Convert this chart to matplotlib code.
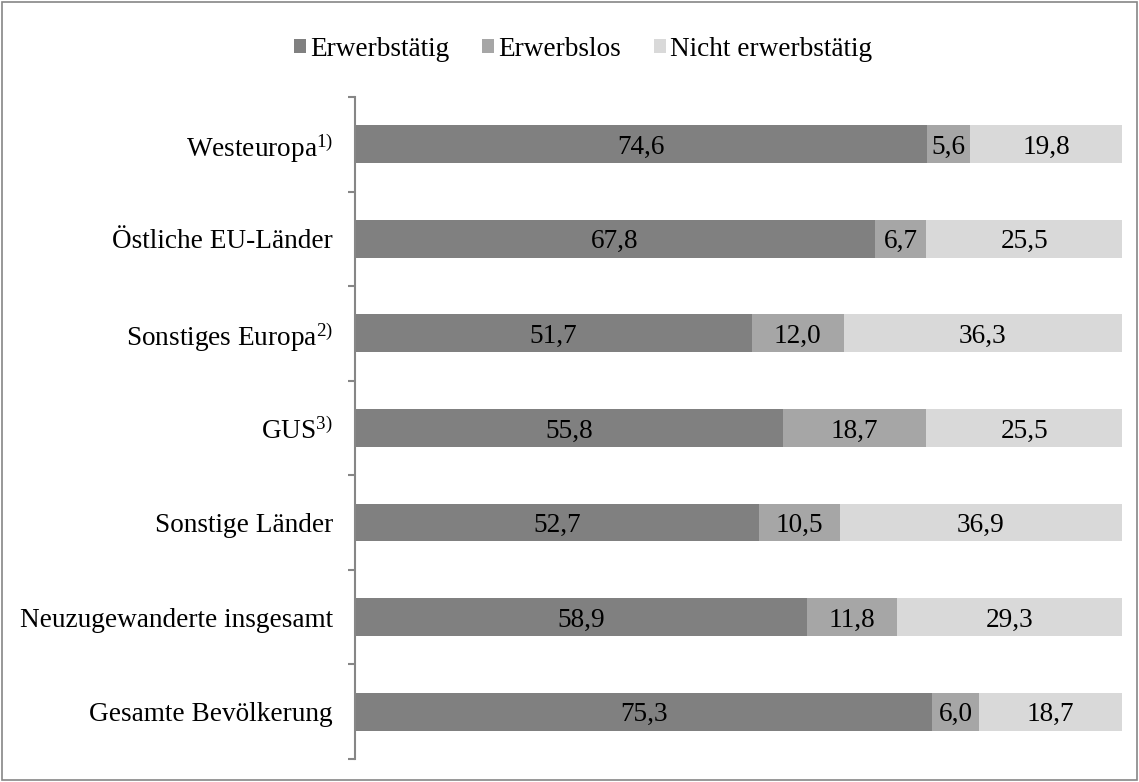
import matplotlib
matplotlib.use("Agg")
import matplotlib.pyplot as plt
from matplotlib.patches import Rectangle
import numpy as np

plt.rcParams['font.family'] = ['Liberation Serif', 'DejaVu Serif']
plt.rcParams['mathtext.fontset'] = 'custom'
plt.rcParams['mathtext.rm'] = 'Liberation Serif'
plt.rcParams['mathtext.default'] = 'regular'

# data
categories = ['Westeuropa$^{1)}$', 'Östliche EU-Länder', 'Sonstiges Europa$^{2)}$',
              'GUS$^{3)}$', 'Sonstige Länder', 'Neuzugewanderte insgesamt',
              'Gesamte Bevölkerung']
erwerbstaetig = [74.6, 67.8, 51.7, 55.8, 52.7, 58.9, 75.3]
erwerbslos = [5.6, 6.7, 12.0, 18.7, 10.5, 11.8, 6.0]
nicht_erwerbstaetig = [19.8, 25.5, 36.3, 25.5, 36.9, 29.3, 18.7]
series_names = ['Erwerbstätig', 'Erwerbslos', 'Nicht erwerbstätig']
colors = ['#808080', '#a6a6a6', '#d9d9d9']

fs = 19.6

fig = plt.figure(figsize=(11.39, 7.82), dpi=100)
ax = fig.add_axes([0.3117, 0.0294, 0.6733, 0.8466])

y = np.arange(len(categories))
left = np.zeros(len(categories))
for vals, name, c in zip([erwerbstaetig, erwerbslos, nicht_erwerbstaetig], series_names, colors):
    bars = ax.barh(y, vals, left=left, height=0.4, color=c, label=name)
    txts = ax.bar_label(bars, labels=[f"{v:.1f}".replace('.', ',') for v in vals],
                        label_type='center', fontsize=fs, color='black')
    for t in txts:
        t.set_va('center_baseline')
    left = left + np.array(vals)

ax.set_xlim(0, 100)
ax.set_ylim(len(categories) - 0.5, -0.5)
ax.set_yticks(y)
ax.set_yticklabels(categories, fontsize=fs)
ax.set_yticks(np.arange(-0.5, len(categories)), minor=True)
ax.tick_params(axis='y', which='major', length=0, pad=16)
ax.tick_params(axis='y', which='minor', length=5, color='#868686', width=1.5)
ax.set_xticks([])
for s in ['top', 'right', 'bottom']:
    ax.spines[s].set_visible(False)
ax.spines['left'].set_color('#868686')
ax.spines['left'].set_linewidth(1.5)

fig.legend(loc='center', bbox_to_anchor=(0.512, 0.937), ncol=3, frameon=False,
           fontsize=fs, handlelength=0.45, handleheight=0.45, handletextpad=0.15,
           columnspacing=1.2)

fig.add_artist(Rectangle((0.002, 0.003), 0.996, 0.994, transform=fig.transFigure,
                         fill=False, edgecolor='#868686', linewidth=1.2))

fig.savefig('out.png', dpi=100)
